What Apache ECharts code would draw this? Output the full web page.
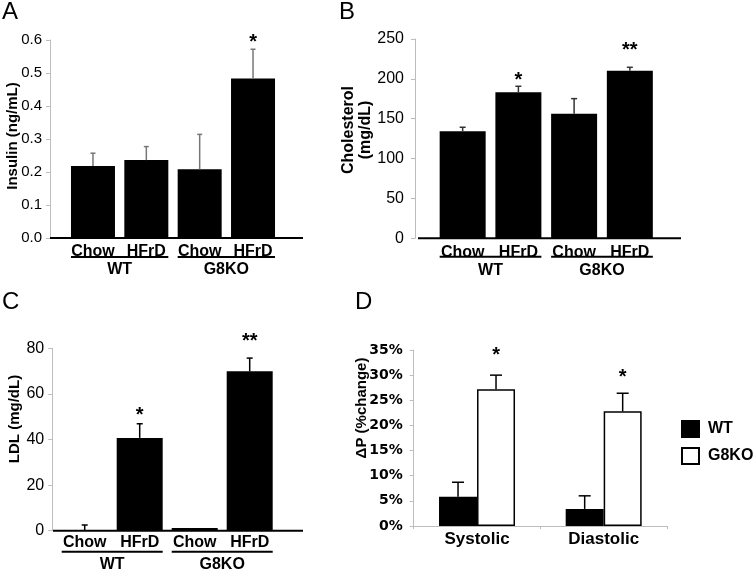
<!DOCTYPE html>
<html><head><meta charset="utf-8">
<script src="https://cdn.jsdelivr.net/npm/echarts@6/dist/echarts.min.js"></script>
<style>html,body{margin:0;padding:0;background:#fff}#c{width:754px;height:569px}</style>
</head><body><div id="c"></div>
<script>
// ---------- data ----------
const catLabels = ['Chow', 'HFrD', 'Chow', 'HFrD'];
const groupLabels = ['WT', 'G8KO'];

const insulinMean = [0.218, 0.236, 0.208, 0.483];
const insulinSem = [0.039, 0.041, 0.106, 0.089];
const insulinStars = ['', '', '', '*'];
const insulinStarLevel = [0, 0, 0, 0.606];

const cholMean = [134.3, 183.2, 156.3, 210.3];
const cholSem = [5.0, 7.5, 18.9, 4.2];
const cholStars = ['', '*', '', '**'];
const cholStarLevel = [0, 203.6, 0, 240.4];

const ldlMean = [0, 40.7, 1.2, 69.9];
const ldlSem = [2.5, 6.2, 0, 5.8];
const ldlStars = ['', '*', '', '**'];
const ldlStarLevel = [0, 52.4, 0, 84.8];

const bpCats = ['Systolic', 'Diastolic'];
const bpWT = [5.8, 3.4];
const bpWTSem = [2.9, 2.6];
const bpG8 = [27.2, 22.8];
const bpG8Sem = [2.8, 3.6];
const bpStars = ['*', '*'];
const bpStarLevel = [34.8, 30.4];

// ---------- styling ----------
const ARIAL = '"Liberation Sans", Arial, Helvetica, sans-serif';
const GRAY = '#bdbdbd';

const chart = echarts.init(document.getElementById('c'), null, {renderer: 'canvas'});

const grids = [
  {left: 66.3, top: 40, width: 213.4, height: 198},
  {left: 434.8, top: 39, width: 222.9, height: 199.3},
  {left: 57.2, top: 348.3, width: 220, height: 182.4},
  {left: 413.7, top: 350, width: 253.3, height: 176}
];

function starText(x, y, s) {
  return {type: 'text', x: x, y: y + 4, style: {text: s, fill: '#000', font: 'bold 20px ' + ARIAL, align: 'center', verticalAlign: 'middle', textAlign: 'center', textVerticalAlign: 'middle'}};
}

function errSeries(axisIdx, means, sems, stars, starLv, o) {
  return {
    type: 'custom', xAxisIndex: axisIdx, yAxisIndex: axisIdx, z: 5,
    encode: {x: 0, y: 1},
    data: means.map((m, i) => [i, m, sems[i], starLv[i]]),
    renderItem: function (params, api) {
      const i = api.value(0), m = api.value(1), s = api.value(2), sl = api.value(3);
      const off = (o.shift || 0) * api.size([1, 0])[0];
      const b = api.coord([i, m]);
      const t = api.coord([i, m + s]);
      const ch = [];
      if (s > 0) {
        ch.push({type: 'line', shape: {x1: b[0] + off, y1: b[1], x2: t[0] + off, y2: t[1]}, style: {stroke: o.color, lineWidth: o.lw}});
        ch.push({type: 'line', shape: {x1: t[0] + off - o.cap, y1: t[1], x2: t[0] + off + o.cap, y2: t[1]}, style: {stroke: o.color, lineWidth: o.lw}});
      }
      const st = stars[params.dataIndex];
      if (st) {
        const p = api.coord([i, sl]);
        ch.push(starText(p[0] + off, p[1], st));
      }
      return {type: 'group', children: ch};
    }
  };
}

function catAxis(g, margin) {
  return {type: 'category', gridIndex: g, data: catLabels, position: 'bottom',
    axisLine: {show: false}, axisTick: {show: false},
    axisLabel: {interval: 0, color: '#000', fontFamily: ARIAL, fontWeight: 'bold', fontSize: 16, margin: margin}};
}
function groupAxis(g, margin) {
  return {type: 'category', gridIndex: g, data: groupLabels, position: 'bottom', offset: 0,
    axisLine: {show: false}, axisTick: {show: false},
    axisLabel: {interval: 0, color: '#000', fontFamily: ARIAL, fontWeight: 'bold', fontSize: 16, margin: margin}};
}
function valAxis(g, min, max, interval, off, label) {
  return {type: 'value', gridIndex: g, min: min, max: max, interval: interval, offset: off,
    axisLine: {show: true, lineStyle: {color: GRAY, width: 1}},
    axisTick: {show: true, length: 4, lineStyle: {color: GRAY}},
    splitLine: {show: false},
    axisLabel: Object.assign({color: '#000', fontFamily: ARIAL}, label)};
}

const option = {
  animation: false,
  backgroundColor: '#fff',
  grid: grids.map(g => Object.assign({outerBoundsMode: 'none', containLabel: false}, g)),
  xAxis: [
    catAxis(0, 6), catAxis(1, 6), catAxis(2, 4),
    {type: 'category', gridIndex: 3, data: bpCats,
      axisLine: {show: true, lineStyle: {color: GRAY, width: 1}},
      axisTick: {show: true, length: 3, lineStyle: {color: GRAY}},
      axisLabel: {interval: 0, color: '#000', fontFamily: ARIAL, fontWeight: 'bold', fontSize: 17, margin: 5}},
    groupAxis(0, 24), groupAxis(1, 24), groupAxis(2, 26)
  ],
  yAxis: [
    valAxis(0, 0, 0.6, 0.1, 16.3, {fontSize: 15, margin: 8, formatter: v => v.toFixed(1)}),
    valAxis(1, 0, 250, 50, 19.8, {fontSize: 16, margin: 11}),
    valAxis(2, 0, 80, 20, 5, {fontSize: 16, margin: 8}),
    valAxis(3, 0, 35, 5, 0, {fontSize: 14, margin: 11, fontWeight: 'bold', fontFamily: '"DejaVu Sans", sans-serif', formatter: '{value}%'})
  ],
  legend: {
    data: ['WT', 'G8KO'], orient: 'vertical', left: 681, top: 420, padding: 0,
    itemWidth: 17, itemHeight: 16, itemGap: 9, icon: 'rect',
    textStyle: {color: '#000', fontFamily: ARIAL, fontWeight: 'bold', fontSize: 16, padding: [0, 0, 0, 4]}
  },
  series: [
    {name: 'Insulin', type: 'bar', xAxisIndex: 0, yAxisIndex: 0, data: insulinMean, barWidth: 44, itemStyle: {color: '#000'}},
    errSeries(0, insulinMean, insulinSem, insulinStars, insulinStarLevel, {color: '#777', lw: 1.5, cap: 2.5}),
    {name: 'Cholesterol', type: 'bar', xAxisIndex: 1, yAxisIndex: 1, data: cholMean, barWidth: 46, itemStyle: {color: '#000'}},
    errSeries(1, cholMean, cholSem, cholStars, cholStarLevel, {color: '#333', lw: 1.5, cap: 3}),
    {name: 'LDL', type: 'bar', xAxisIndex: 2, yAxisIndex: 2, data: ldlMean, barWidth: 46, itemStyle: {color: '#000'}},
    errSeries(2, ldlMean, ldlSem, ldlStars, ldlStarLevel, {color: '#000', lw: 1.5, cap: 3}),
    {name: 'WT', type: 'bar', xAxisIndex: 3, yAxisIndex: 3, data: bpWT, barGap: '0%', barCategoryGap: '40%',
      itemStyle: {color: '#000', borderColor: '#000', borderWidth: 1.5}},
    {name: 'G8KO', type: 'bar', xAxisIndex: 3, yAxisIndex: 3, data: bpG8, barGap: '0%', barCategoryGap: '40%',
      itemStyle: {color: '#fff', borderColor: '#000', borderWidth: 1.5}},
    errSeries(3, bpWT, bpWTSem, ['', ''], [0, 0], {color: '#000', lw: 1.5, cap: 6, shift: -0.15}),
    errSeries(3, bpG8, bpG8Sem, bpStars, bpStarLevel, {color: '#000', lw: 1.5, cap: 6, shift: 0.15})
  ],
  graphic: [
    {type: 'text', left: 2, top: 0, style: {text: 'A', font: '24px ' + ARIAL, fill: '#000'}},
    {type: 'text', left: 339, top: 0, style: {text: 'B', font: '24px ' + ARIAL, fill: '#000'}},
    {type: 'text', left: 2, top: 290, style: {text: 'C', font: '24px ' + ARIAL, fill: '#000'}},
    {type: 'text', left: 355, top: 290, style: {text: 'D', font: '24px ' + ARIAL, fill: '#000'}}
  ]
};
chart.setOption(option);

// ---------- derived decorations (axis baselines, group underlines, axis titles) ----------
const extra = [];
function yTitle(text, x, y, size, lh) {
  extra.push({type: 'text', x: x, y: y, rotation: Math.PI / 2,
    style: {text: text, font: 'bold ' + size + 'px ' + ARIAL, fill: '#000', align: 'center', verticalAlign: 'middle', lineHeight: lh || size}});
}
yTitle('Insulin (ng/mL)', 13, 136, 15);
yTitle('Cholesterol\n(mg/dL)', 357.5, 130, 16, 17);
yTitle('LDL (mg/dL)', 15, 419, 15);
yTitle('ΔP (%change)', 362, 408, 15);

const baseRight = [303, 681, 303];
const baseLeft = [50, 418, 53];
const barW = [44, 46, 46];
const underGap = [19, 18.5, 21];
for (let g = 0; g < 3; g++) {
  const y0 = chart.convertToPixel({yAxisIndex: g}, 0);
  extra.push({type: 'line', shape: {x1: baseLeft[g], y1: y0, x2: baseRight[g], y2: y0}, style: {stroke: '#000', lineWidth: 2}, z: 10});
  for (let k = 0; k < 2; k++) {
    const xa = chart.convertToPixel({xAxisIndex: g}, 2 * k);
    const xb = chart.convertToPixel({xAxisIndex: g}, 2 * k + 1);
    extra.push({type: 'line', shape: {x1: xa - barW[g] / 2, y1: y0 + underGap[g], x2: xb + barW[g] / 2, y2: y0 + underGap[g]}, style: {stroke: '#000', lineWidth: 2}, z: 10});
  }
}
chart.setOption({graphic: option.graphic.concat(extra)});
</script>
</body></html>
